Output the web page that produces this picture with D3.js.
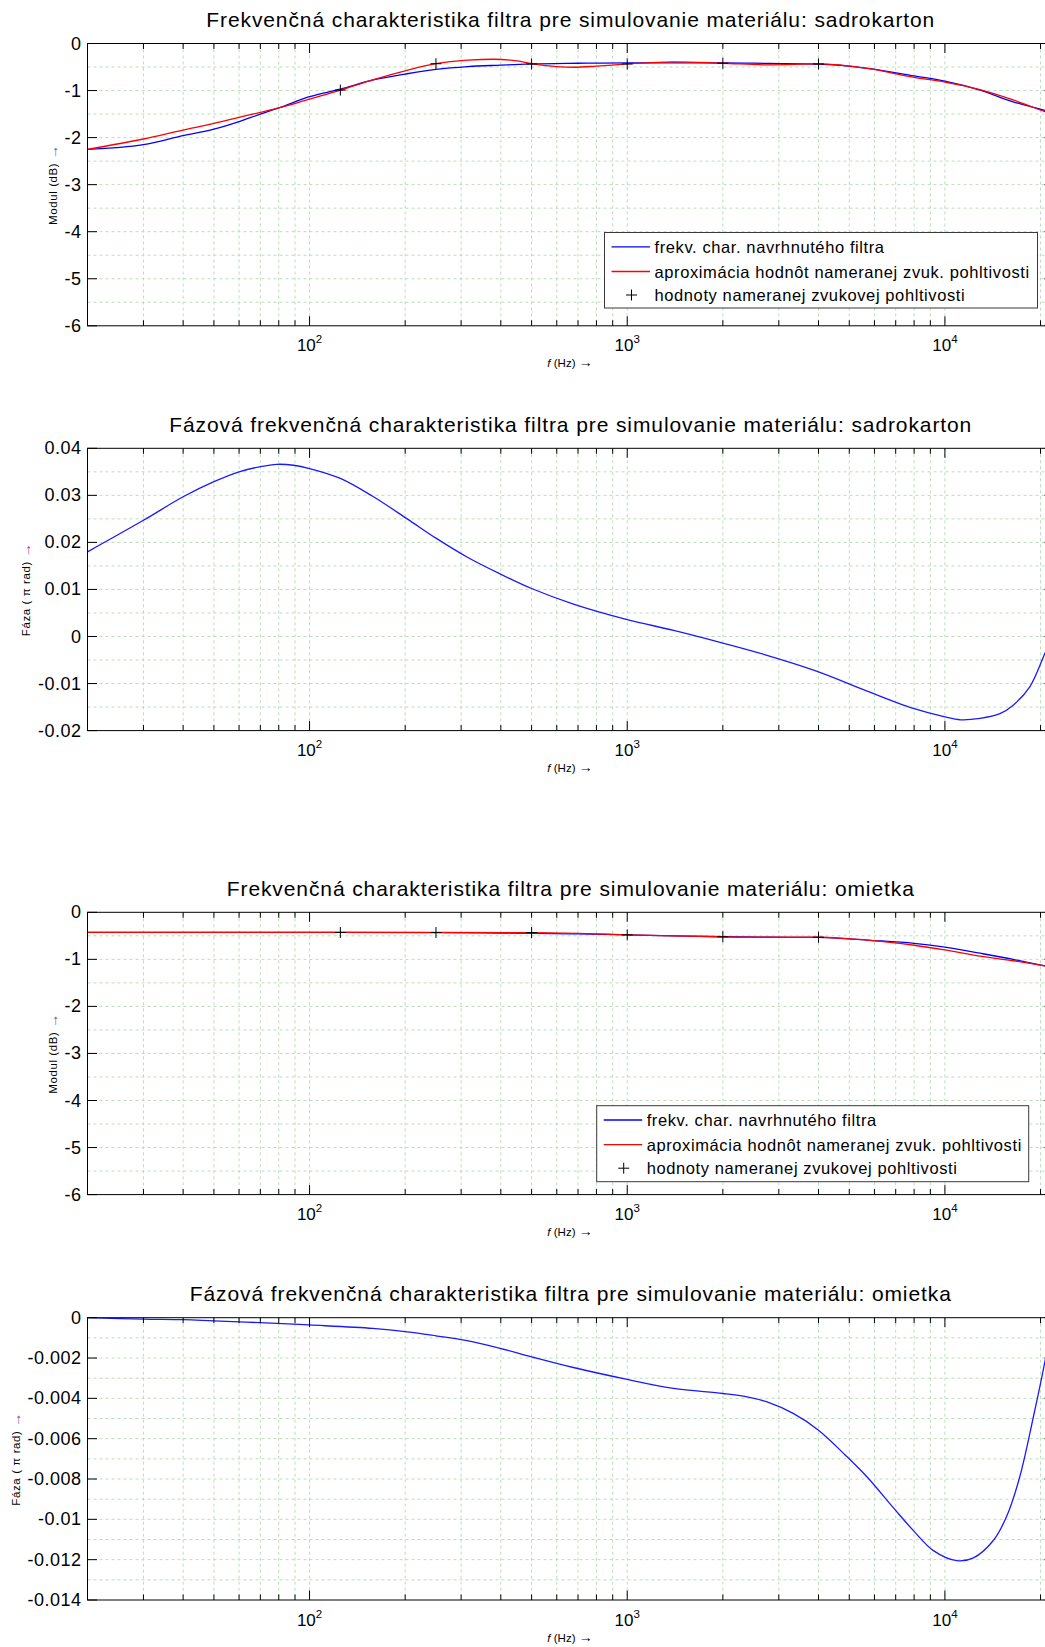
<!DOCTYPE html>
<html><head><meta charset="utf-8">
<script src="https://cdn.jsdelivr.net/npm/d3@7"></script>
<style>
body{margin:0;background:#fff}
svg{display:block}
text{font-family:"Liberation Sans",Arial,Helvetica,sans-serif;fill:#000}
</style>
</head><body>
<svg id="chart" width="1045" height="1647"></svg>
<script>
// ---------------- DATA ----------------
const xDomain = [20, 22050];
const xMajorTicks = [100, 1000, 10000];
const xTickLabels = ["2", "3", "4"];            // exponents of 10
const measuredFreqs = [125, 250, 500, 1000, 2000, 4000];

const legendLabels = [
  "frekv. char. navrhnutého filtra",
  "aproximácia hodnôt nameranej zvuk. pohltivosti",
  "hodnoty nameranej zvukovej pohltivosti"
];

const titles = [
  "Frekvenčná charakteristika filtra pre simulovanie materiálu: sadrokarton",
  "Fázová frekvenčná charakteristika filtra pre simulovanie materiálu: sadrokarton",
  "Frekvenčná charakteristika filtra pre simulovanie materiálu: omietka",
  "Fázová frekvenčná charakteristika filtra pre simulovanie materiálu: omietka"
];

// Panel 1: magnitude, sadrokarton (dB)
const mag1FilterFreq = [20, 30, 40, 50, 60, 70, 80, 100, 125, 160, 200, 250, 315, 400, 500, 700, 1000, 1400, 2000, 2800, 4000, 5700, 8000, 10000, 12900, 16400, 20630, 22050];
const mag1Filter     = [-2.25, -2.15, -1.96, -1.82, -1.66, -1.50, -1.37, -1.13, -0.97, -0.77, -0.65, -0.55, -0.49, -0.46, -0.435, -0.42, -0.41, -0.41, -0.41, -0.425, -0.44, -0.53, -0.69, -0.80, -0.99, -1.24, -1.42, -1.48];
const mag1ApproxFreq = [20, 30, 40, 50, 60, 80, 100, 125, 160, 200, 250, 315, 380, 450, 500, 600, 680, 800, 1000, 1400, 2000, 2800, 4000, 5700, 8000, 10000, 12900, 16400, 20630, 22050];
const mag1Approx     = [-2.25, -2.03, -1.84, -1.70, -1.57, -1.37, -1.18, -0.99, -0.76, -0.58, -0.43, -0.355, -0.335, -0.37, -0.43, -0.49, -0.505, -0.48, -0.435, -0.39, -0.42, -0.455, -0.435, -0.53, -0.72, -0.82, -0.98, -1.20, -1.45, -1.52];
const mag1Measured   = [-0.99, -0.43, -0.435, -0.435, -0.42, -0.435];

// Panel 2: phase, sadrokarton (pi rad)
const phase1Freq = [20, 30, 40, 50, 60, 70, 79, 89, 100, 125, 158, 203, 250, 313, 398, 500, 677, 1000, 1400, 2000, 2754, 4000, 5690, 7960, 10000, 11200, 12900, 14900, 16400, 18500, 20630, 22050];
const phase1     = [0.0180, 0.0247, 0.0297, 0.0329, 0.0350, 0.0361, 0.0366, 0.0364, 0.0357, 0.0336, 0.0298, 0.0250, 0.0209, 0.0169, 0.0133, 0.0102, 0.0069, 0.0036, 0.0013, -0.0014, -0.0040, -0.0075, -0.0116, -0.0153, -0.0171, -0.0177, -0.0174, -0.0164, -0.0146, -0.0107, -0.0036, 0.0010];

// Panel 3: magnitude, omietka (dB)
const mag2FilterFreq = [20, 125, 250, 400, 500, 700, 1000, 1400, 2000, 2800, 4000, 4900, 5700, 8000, 10000, 12900, 16400, 20630, 22050];
const mag2Filter     = [-0.425, -0.425, -0.43, -0.44, -0.445, -0.46, -0.48, -0.50, -0.52, -0.53, -0.535, -0.56, -0.59, -0.66, -0.74, -0.87, -1.00, -1.14, -1.18];
const mag2ApproxFreq = [20, 125, 250, 400, 500, 700, 1000, 1400, 2000, 2800, 4000, 4900, 5700, 8000, 10000, 12900, 16400, 20630, 22050];
const mag2Approx     = [-0.425, -0.425, -0.425, -0.43, -0.435, -0.45, -0.48, -0.50, -0.52, -0.53, -0.53, -0.56, -0.59, -0.70, -0.80, -0.93, -1.03, -1.14, -1.17];
const mag2Measured   = [-0.43, -0.43, -0.43, -0.48, -0.52, -0.53];

// Panel 4: phase, omietka (pi rad)
const phase2Freq = [20, 30, 40, 50, 79, 100, 158, 203, 250, 313, 398, 500, 677, 1000, 1400, 2000, 2383, 2754, 3340, 4000, 4870, 5690, 6890, 7960, 9200, 10900, 12300, 14200, 15600, 17200, 19000, 20630, 22050];
const phase2     = [0.0000, -0.00007, -0.0001, -0.00016, -0.00028, -0.00036, -0.00053, -0.0007, -0.0009, -0.00114, -0.00152, -0.00194, -0.00247, -0.00306, -0.00351, -0.00376, -0.00393, -0.00418, -0.00476, -0.00558, -0.00683, -0.0079, -0.00943, -0.01056, -0.01155, -0.01205, -0.01191, -0.01105, -0.0099, -0.0079, -0.0049, -0.0022, 0.0003];

// y axes
const yMag = {domain: [-6, 0], major: [0, -1, -2, -3, -4, -5, -6], labels: ["0", "-1", "-2", "-3", "-4", "-5", "-6"], minor: 0.5};
const yPh1 = {domain: [-0.02, 0.04], major: [0.04, 0.03, 0.02, 0.01, 0, -0.01, -0.02], labels: ["0.04", "0.03", "0.02", "0.01", "0", "-0.01", "-0.02"], minor: 0.005};
const yPh2 = {domain: [-0.014, 0], major: [0, -0.002, -0.004, -0.006, -0.008, -0.01, -0.012, -0.014], labels: ["0", "-0.002", "-0.004", "-0.006", "-0.008", "-0.01", "-0.012", "-0.014"], minor: 0.001};

// ---------------- LAYOUT ----------------
const svg = d3.select("#chart");
const X0 = 87.5, X1 = 1054;
const H = 282.3;
const gridColor = "#bcdcbc";

const panels = [
  {top: 43.5, y: yMag, title: titles[0], ylabel: "Modul (dB) ", ylabelX: 53, curve: "mono",
   lines: [{f: mag1FilterFreq, v: mag1Filter, c: "#0000ff"}, {f: mag1ApproxFreq, v: mag1Approx, c: "#ff0000"}],
   meas: mag1Measured, legend: {x: 604.5, y: 232.5, w: 433, h: 75.5}},
  {top: 448.3, y: yPh1, title: titles[1], ylabel: "Fáza ( π rad) ", ylabelX: 26, curve: "cr",
   lines: [{f: phase1Freq, v: phase1, c: "#1a1aff"}]},
  {top: 912.3, y: yMag, title: titles[2], ylabel: "Modul (dB) ", ylabelX: 53, curve: "mono",
   lines: [{f: mag2FilterFreq, v: mag2Filter, c: "#0000ff"}, {f: mag2ApproxFreq, v: mag2Approx, c: "#ff0000"}],
   meas: mag2Measured, legend: {x: 596.7, y: 1105.7, w: 432, h: 76}},
  {top: 1317.7, y: yPh2, title: titles[3], ylabel: "Fáza ( π rad) ", ylabelX: 16, curve: "cr",
   lines: [{f: phase2Freq, v: phase2, c: "#1a1aff"}]}
];

const x = d3.scaleLog().domain(xDomain).range([X0, X1]);

const logTicks = [];
for (let dec = 10; dec <= 10000; dec *= 10) {
  for (let m = 1; m <= 9; m++) {
    const v = dec * m;
    if (v >= xDomain[0] && v <= xDomain[1]) logTicks.push(v);
  }
}

function plus(g, cx, cy, s, color) {
  g.append("path")
    .attr("d", `M${cx - s},${cy}H${cx + s}M${cx},${cy - s}V${cy + s}`)
    .attr("stroke", color).attr("stroke-width", 1).attr("fill", "none");
}

panels.forEach((p, i) => {
  const top = p.top, bot = top + H;
  const y = d3.scaleLinear().domain(p.y.domain).range([bot, top]);
  const g = svg.append("g");
  const clipId = "clip" + i;
  svg.append("clipPath").attr("id", clipId)
    .append("rect").attr("x", X0).attr("y", top).attr("width", X1 - X0).attr("height", H);

  // grid
  const grid = g.append("g").attr("stroke", gridColor).attr("stroke-width", 1).attr("stroke-dasharray", "3,3");
  logTicks.forEach(t => {
    grid.append("line").attr("x1", x(t)).attr("x2", x(t)).attr("y1", top).attr("y2", bot);
  });
  const [ymin, ymax] = p.y.domain;
  const nSteps = Math.round((ymax - ymin) / p.y.minor);
  for (let k = 1; k < nSteps; k++) {
    const v = ymin + k * p.y.minor;
    grid.append("line").attr("x1", X0).attr("x2", X1).attr("y1", y(v)).attr("y2", y(v));
  }

  // lines
  const lg = g.append("g").attr("clip-path", `url(#${clipId})`);
  const curve = p.curve === "cr" ? d3.curveCatmullRom.alpha(0.5) : d3.curveMonotoneX;
  p.lines.forEach(L => {
    const pts = L.f.map((f, j) => [f, L.v[j]]);
    const line = d3.line().x(d => x(d[0])).y(d => y(d[1])).curve(curve);
    lg.append("path").datum(pts).attr("d", line)
      .attr("fill", "none").attr("stroke", L.c).attr("stroke-width", 1.3);
  });
  if (p.meas) {
    p.meas.forEach((v, j) => plus(lg, x(measuredFreqs[j]), y(v), 5.5, "#000"));
  }

  // box
  g.append("rect").attr("x", X0).attr("y", top).attr("width", X1 - X0).attr("height", H)
    .attr("fill", "none").attr("stroke", "#000").attr("stroke-width", 1);

  // ticks
  const tk = g.append("g").attr("stroke", "#000").attr("stroke-width", 1);
  logTicks.forEach(t => {
    const len = xMajorTicks.includes(t) ? 9.5 : 5.5;
    tk.append("line").attr("x1", x(t)).attr("x2", x(t)).attr("y1", bot).attr("y2", bot - len);
    tk.append("line").attr("x1", x(t)).attr("x2", x(t)).attr("y1", top).attr("y2", top + len);
  });
  p.y.major.forEach(v => {
    tk.append("line").attr("x1", X0).attr("x2", X0 + 9.5).attr("y1", y(v)).attr("y2", y(v));
    tk.append("line").attr("x1", X1).attr("x2", X1 - 9.5).attr("y1", y(v)).attr("y2", y(v));
  });

  // y tick labels
  p.y.major.forEach((v, j) => {
    g.append("text").attr("x", 81.5).attr("y", y(v)).attr("text-anchor", "end")
      .attr("dominant-baseline", "central").attr("font-size", 18).attr("letter-spacing", 0.5)
      .text(p.y.labels[j]);
  });
  // x tick labels 10^n
  xMajorTicks.forEach((t, j) => {
    const tx = g.append("text").attr("x", x(t)).attr("y", bot + 25.5).attr("text-anchor", "middle")
      .attr("font-size", 17);
    tx.append("tspan").text("10");
    tx.append("tspan").attr("dy", -8).attr("font-size", 11.5).text(xTickLabels[j]);
  });
  // x label
  const xl = g.append("text").attr("x", 570).attr("y", bot + 41.5).attr("text-anchor", "middle").attr("font-size", 11.5);
  xl.append("tspan").attr("font-style", "italic").text("f");
  xl.append("tspan").text(" (Hz) ");
  xl.append("tspan").attr("font-size", 14).text("→");
  // y label
  const cy = (top + bot) / 2;
  const yl = g.append("text").attr("transform", `translate(${p.ylabelX},${cy}) rotate(-90)`)
    .attr("text-anchor", "middle").attr("dominant-baseline", "central").attr("font-size", 11.5)
    .attr("letter-spacing", 0.6);
  yl.append("tspan").text(p.ylabel);
  yl.append("tspan").attr("style", "fill:#8a5aa6").attr("font-size", 14).text("→");

  // title
  g.append("text").attr("x", (X0 + X1) / 2).attr("y", top - 16.5).attr("text-anchor", "middle")
    .attr("font-size", 21).attr("letter-spacing", 0.9).text(p.title);

  // legend
  if (p.legend) {
    const L = p.legend;
    const lgd = g.append("g");
    lgd.append("rect").attr("x", L.x).attr("y", L.y).attr("width", L.w).attr("height", L.h)
      .attr("fill", "#fff").attr("stroke", "#3a3a3a").attr("stroke-width", 1);
    const rows = [14.3, 39, 62.5];
    const cols = ["#0000ff", "#ff0000", null];
    rows.forEach((r, j) => {
      const ry = L.y + r;
      if (cols[j]) {
        lgd.append("line").attr("x1", L.x + 7).attr("x2", L.x + 45.5).attr("y1", ry).attr("y2", ry)
          .attr("stroke", cols[j]).attr("stroke-width", 1.3);
      } else {
        plus(lgd, L.x + 27, ry, 5.5, "#000");
      }
      lgd.append("text").attr("x", L.x + 50).attr("y", ry).attr("dominant-baseline", "central")
        .attr("font-size", 16.5).attr("letter-spacing", 0.6).text(legendLabels[j]);
    });
  }
});
</script>
</body></html>
